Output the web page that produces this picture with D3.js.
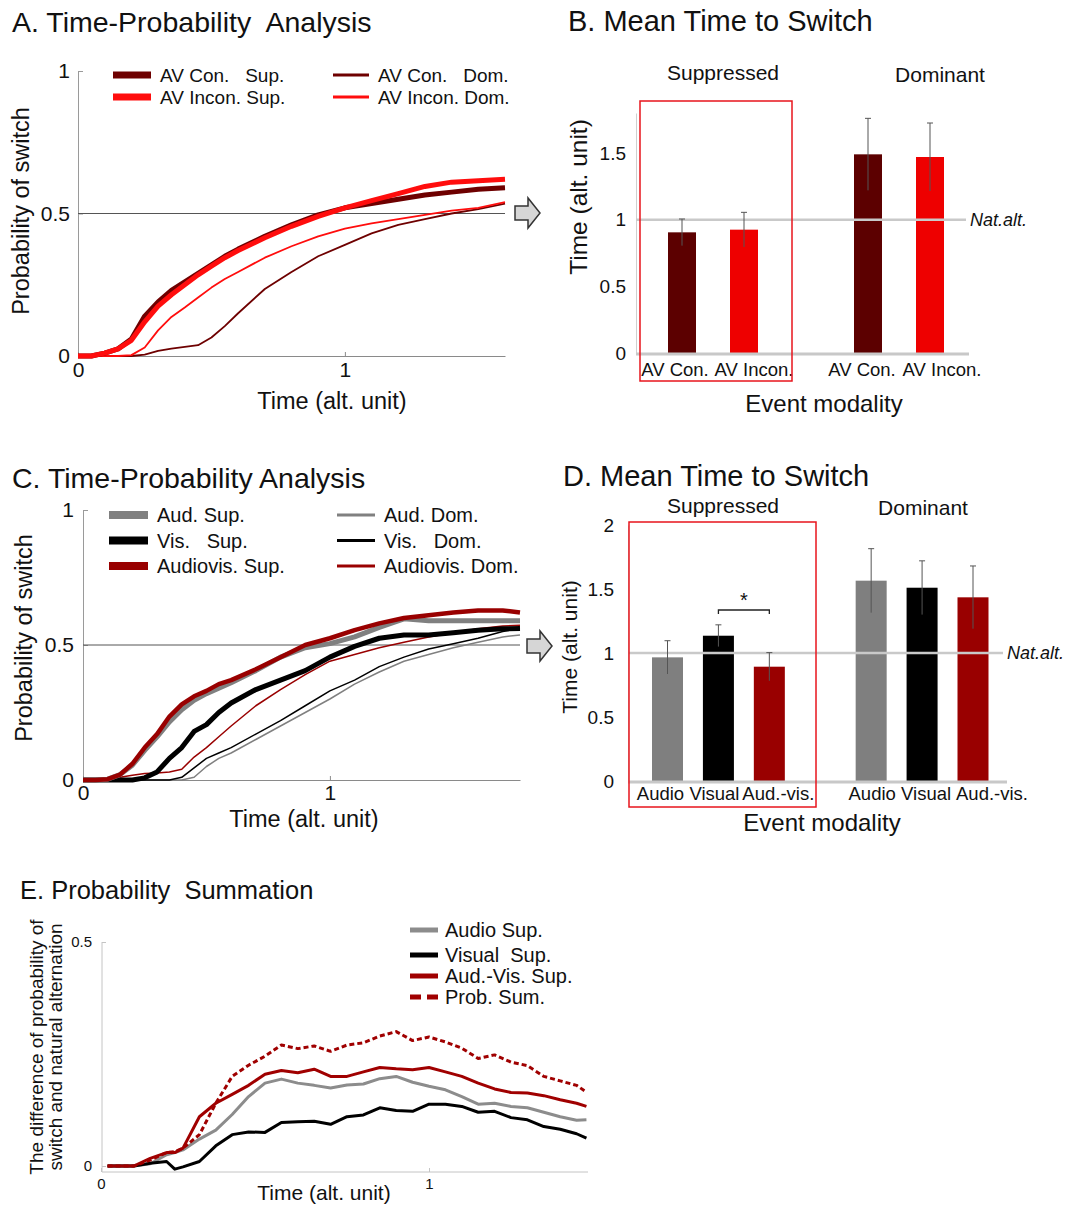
<!DOCTYPE html>
<html>
<head>
<meta charset="utf-8">
<script src="https://cdn.jsdelivr.net/npm/d3@7"></script>
<style>
body { margin: 0; background: #fff; }
text { font-family: "Liberation Sans", Arial, sans-serif; fill: #111; }
</style>
</head>
<body>
<script>
// ---------- panel A: time-probability, AV congruent / incongruent ----------
var timeA = [0,0.05,0.1,0.15,0.2,0.25,0.3,0.35,0.4,0.45,0.5,0.55,0.6,0.7,0.8,0.9,1.0,1.1,1.2,1.3,1.4,1.5,1.6];
var avConSup   = [0,0,0.01,0.025,0.06,0.14,0.19,0.23,0.26,0.29,0.32,0.35,0.375,0.42,0.46,0.495,0.52,0.535,0.55,0.565,0.575,0.585,0.59];
var avInconSup = [0,0,0.01,0.025,0.055,0.12,0.175,0.215,0.25,0.285,0.315,0.345,0.37,0.415,0.455,0.49,0.52,0.545,0.57,0.595,0.61,0.615,0.62];
var avConDom   = [0,0,0,0,0,0.005,0.018,0.026,0.032,0.038,0.065,0.105,0.15,0.235,0.295,0.35,0.39,0.43,0.46,0.48,0.5,0.515,0.535];
var avInconDom = [0,0,0,0,0.003,0.03,0.09,0.137,0.17,0.205,0.24,0.27,0.295,0.345,0.385,0.42,0.447,0.465,0.48,0.495,0.51,0.52,0.54];
var legendA = ['AV Con.   Sup.', 'AV Incon. Sup.', 'AV Con.   Dom.', 'AV Incon. Dom.'];

// ---------- panel C: time-probability, audio / visual / audiovisual ----------
var timeC = [0,0.05,0.1,0.15,0.2,0.25,0.3,0.35,0.4,0.45,0.5,0.55,0.6,0.7,0.8,0.9,1.0,1.1,1.2,1.3,1.4,1.5,1.6,1.7,1.77];
var audSupC = [0,0,0.003,0.02,0.055,0.11,0.16,0.215,0.26,0.295,0.32,0.34,0.36,0.405,0.455,0.49,0.505,0.53,0.565,0.597,0.59,0.59,0.59,0.59,0.59];
var visSupC = [0,0,0,0,0,0.008,0.03,0.08,0.12,0.18,0.205,0.25,0.285,0.335,0.37,0.405,0.455,0.495,0.525,0.537,0.537,0.545,0.555,0.56,0.561];
var avSupC  = [0,0,0.003,0.02,0.06,0.12,0.17,0.235,0.28,0.31,0.33,0.355,0.37,0.41,0.455,0.5,0.525,0.555,0.58,0.6,0.61,0.62,0.628,0.628,0.62];
var audDomC = [0,0,0,0,0,0,0,0,0,0.01,0.05,0.08,0.1,0.15,0.2,0.25,0.3,0.355,0.4,0.44,0.465,0.49,0.51,0.53,0.537];
var visDomC = [0,0,0,0,0,0,0,0,0.01,0.045,0.08,0.1,0.12,0.17,0.22,0.275,0.33,0.37,0.42,0.455,0.485,0.505,0.525,0.55,0.561];
var avDomC  = [0,0,0.003,0.01,0.018,0.024,0.026,0.03,0.04,0.085,0.12,0.16,0.2,0.275,0.335,0.39,0.44,0.465,0.49,0.51,0.53,0.545,0.56,0.57,0.573];
var legendC = ['Aud. Sup.', 'Vis.   Sup.', 'Audiovis. Sup.', 'Aud. Dom.', 'Vis.   Dom.', 'Audiovis. Dom.'];

// ---------- panel B: mean time to switch ----------
var catsB = ['AV Con.', 'AV Incon.'];
var supB = [0.905, 0.925], supErrB = [0.10, 0.13];
var domB = [1.49, 1.47],   domErrB = [0.27, 0.255];

// ---------- panel D: mean time to switch ----------
var catsD = ['Audio', 'Visual', 'Aud.-vis.'];
var supD = [0.966, 1.135, 0.893], supErrD = [0.13, 0.085, 0.11];
var domD = [1.565, 1.51, 1.435],  domErrD = [0.25, 0.21, 0.245];

// ---------- panel E: probability summation ----------
var timeE = [0.02,0.1,0.15,0.2,0.225,0.25,0.3,0.35,0.4,0.45,0.5,0.55,0.6,0.65,0.7,0.75,0.8,0.85,0.9,0.95,1.0,1.05,1.1,1.15,1.2,1.25,1.3,1.35,1.4,1.45,1.48];
var audSupE  = [0,0,0.005,0.025,0.03,0.036,0.06,0.08,0.115,0.155,0.185,0.194,0.185,0.18,0.174,0.181,0.183,0.195,0.2,0.187,0.178,0.17,0.155,0.138,0.14,0.133,0.13,0.12,0.11,0.102,0.103];
var visSupE  = [0,0,0.006,0.01,-0.007,-0.002,0.01,0.045,0.07,0.076,0.075,0.097,0.099,0.1,0.093,0.11,0.114,0.13,0.124,0.122,0.138,0.138,0.133,0.12,0.122,0.108,0.103,0.088,0.082,0.072,0.062];
var avSupE   = [0,0,0.017,0.03,0.03,0.04,0.11,0.14,0.16,0.18,0.205,0.213,0.208,0.216,0.2,0.2,0.21,0.22,0.217,0.215,0.22,0.21,0.2,0.185,0.172,0.164,0.163,0.157,0.148,0.14,0.133];
var probSumE = [0,0,0.013,0.03,0.032,0.04,0.07,0.14,0.2,0.225,0.245,0.27,0.262,0.268,0.256,0.27,0.275,0.29,0.3,0.28,0.288,0.277,0.263,0.24,0.248,0.232,0.224,0.2,0.19,0.18,0.165];
var legendE = ['Audio Sup.', 'Visual  Sup.', 'Aud.-Vis. Sup.', 'Prob. Sum.'];

var DARK = '#6e0000', BRIGHT = '#ff0d0d', AVRED = '#990000', GREY = '#808080';

var svg = d3.select('body').append('svg')
  .attr('width', 1073).attr('height', 1205)
  .style('display', 'block');
svg.append('rect').attr('width', 1073).attr('height', 1205).attr('fill', '#fff');

function title(x, y, s, size) {
  svg.append('text').attr('x', x).attr('y', y)
    .attr('font-size', size).style('white-space', 'pre').text(s);
}

function zip(t, v) {
  return t.map(function(d, i) { return [d, v[i]]; });
}

function styleAxis(g, size, color) {
  g.attr('font-family', '"Liberation Sans", Arial, sans-serif').attr('font-size', size);
  g.select('.domain').attr('stroke', color);
  g.selectAll('.tick line').attr('stroke', color);
  g.selectAll('.tick text').attr('fill', '#111');
}

function arrow(x0, yc) {
  var p = d3.path();
  p.moveTo(x0, yc - 7); p.lineTo(x0 + 13, yc - 7); p.lineTo(x0 + 13, yc - 15);
  p.lineTo(x0 + 25, yc); p.lineTo(x0 + 13, yc + 15); p.lineTo(x0 + 13, yc + 7);
  p.lineTo(x0, yc + 7); p.closePath();
  svg.append('path').attr('d', p.toString()).attr('fill', '#d6d6d6')
    .attr('stroke', '#333').attr('stroke-width', 1.5);
}

// ---------- time-probability panels ----------
function curvePanel(o) {
  var x = d3.scaleLinear().domain(o.xdom).range(o.xr);
  var y = d3.scaleLinear().domain([0, 1]).range(o.yr);
  var g = svg.append('g');

  var ya = g.append('g').attr('transform', 'translate(' + o.xr[0] + ',0)')
    .call(d3.axisLeft(y).tickValues([0, 0.5, 1]).tickFormat(d3.format('~g'))
      .tickSizeInner(-5).tickSizeOuter(0).tickPadding(o.tickPad));
  styleAxis(ya, o.tickSize, '#9a9a9a');

  var xa = g.append('g').attr('transform', 'translate(0,' + o.yr[0] + ')')
    .call(d3.axisBottom(x).tickValues([0, 1]).tickFormat(d3.format('~g'))
      .tickSizeInner(-4).tickSizeOuter(0).tickPadding(o.xPad));
  styleAxis(xa, o.tickSize, '#8a8a8a');

  g.append('line').attr('x1', x(0)).attr('x2', o.xr[1])
    .attr('y1', y(0.5)).attr('y2', y(0.5))
    .attr('stroke', '#555').attr('stroke-width', 1);

  var line = d3.line().x(function(d) { return x(d[0]); }).y(function(d) { return y(d[1]); });
  o.series.forEach(function(s) {
    g.append('path').attr('d', line(zip(o.time, s.v)))
      .attr('fill', 'none').attr('stroke', s.c).attr('stroke-width', s.w)
      .attr('stroke-linejoin', 'round');
  });

  // legend
  o.legend.forEach(function(lab, i) {
    var col = Math.floor(i / o.perCol), row = i % o.perCol;
    var s = o.legendSeries[i];
    var lx = o.legX[col], ly = o.legY + row * o.legStep;
    g.append('line').attr('x1', lx).attr('x2', lx + o.swW[col])
      .attr('y1', ly).attr('y2', ly)
      .attr('stroke', s.c).attr('stroke-width', o.swT[col]);
    g.append('text').attr('x', lx + o.swW[col] + 9).attr('y', ly + 7)
      .attr('font-size', o.legSize).style('white-space', 'pre').text(lab);
  });

  g.append('text').attr('transform', 'translate(' + o.ylab[0] + ',' + o.ylab[1] + ') rotate(-90)')
    .attr('text-anchor', 'middle').attr('dy', '0.35em').attr('font-size', 23.5)
    .text('Probability of switch');
  g.append('text').attr('x', o.xlab[0]).attr('y', o.xlab[1])
    .attr('text-anchor', 'middle').attr('font-size', 23.5).text('Time (alt. unit)');
}

title(12, 32, 'A. Time-Probability  Analysis', 28.5);
var serA = [
  { v: avConSup,   c: DARK,   w: 5 },
  { v: avInconSup, c: BRIGHT, w: 5 },
  { v: avConDom,   c: DARK,   w: 1.8 },
  { v: avInconDom, c: BRIGHT, w: 1.8 }
];
curvePanel({
  time: timeA, xdom: [0, 1.6], xr: [78, 505], yr: [356, 71],
  tickPad: 8, xPad: 6, tickSize: 21,
  series: [serA[2], serA[3], serA[0], serA[1]],
  legend: legendA, legendSeries: serA, perCol: 2, legSize: 19,
  legX: [113, 333], legY: 75, legStep: 22, swW: [38, 36], swT: [7, 3],
  ylab: [21, 211], xlab: [332, 409]
});
arrow(515, 213);

title(12, 488, 'C. Time-Probability Analysis', 28.5);
var serC = [
  { v: audSupC, c: GREY,   w: 5 },
  { v: visSupC, c: '#000', w: 5 },
  { v: avSupC,  c: AVRED,  w: 4.5 },
  { v: audDomC, c: GREY,   w: 1.5 },
  { v: visDomC, c: '#000', w: 1.5 },
  { v: avDomC,  c: AVRED,  w: 1.5 }
];
curvePanel({
  time: timeC, xdom: [0, 1.77], xr: [83, 520], yr: [780, 510],
  tickPad: 9, xPad: 5, tickSize: 21,
  series: [serC[3], serC[4], serC[5], serC[1], serC[0], serC[2]],
  legend: legendC, legendSeries: serC, perCol: 3, legSize: 20,
  legX: [109, 337], legY: 515, legStep: 25.5, swW: [39, 38], swT: [8, 3],
  ylab: [24, 638], xlab: [304, 827]
});
arrow(527, 646);

// ---------- bar panels ----------
function barPanel(o) {
  var g = svg.append('g');
  var y = d3.scaleLinear().domain([0, o.ymax]).range([o.y0, o.ytop]);
  var keys = o.cats.map(function(c) { return 's-' + c; })
    .concat(['gap'], o.cats.map(function(c) { return 'd-' + c; }));
  var x = d3.scalePoint().domain(keys).range(o.xrange);

  var bars = [];
  o.cats.forEach(function(c, i) {
    bars.push({ k: 's-' + c, lab: c, v: o.sup[i], e: o.supErr[i], c: o.colors[i], dx: o.labDx[i] });
  });
  o.cats.forEach(function(c, i) {
    bars.push({ k: 'd-' + c, lab: c, v: o.dom[i], e: o.domErr[i], c: o.colors[i], dx: o.labDx[i + o.cats.length] });
  });

  var ya = g.append('g').attr('transform', 'translate(' + o.axisX + ',0)')
    .call(d3.axisLeft(y).tickValues(o.ticks).tickFormat(d3.format('~g'))
      .tickSize(0).tickPadding(o.tickPad));
  styleAxis(ya, 19, '#cfcfcf');

  g.selectAll('rect.bar').data(bars).enter().append('rect')
    .attr('class', 'bar')
    .attr('x', function(d) { return x(d.k) - o.bw / 2; })
    .attr('width', o.bw)
    .attr('y', function(d) { return y(d.v); })
    .attr('height', function(d) { return y(0) - y(d.v); })
    .attr('fill', function(d) { return d.c; });

  // baseline and natural alternation line
  g.append('line').attr('x1', o.axisX).attr('x2', o.baseEnd)
    .attr('y1', y(0) + 1).attr('y2', y(0) + 1)
    .attr('stroke', '#c8c8c8').attr('stroke-width', 3);
  g.append('line').attr('x1', o.axisX).attr('x2', o.natEnd)
    .attr('y1', y(1)).attr('y2', y(1))
    .attr('stroke', '#c9c9c9').attr('stroke-width', 2.5);
  g.append('text').attr('x', o.natEnd + 4).attr('y', y(1) + 6)
    .attr('font-size', 18).attr('font-style', 'italic').text('Nat.alt.');

  var eb = g.selectAll('g.err').data(bars).enter().append('g')
    .attr('stroke', '#555').attr('stroke-width', 1);
  eb.append('line')
    .attr('x1', function(d) { return x(d.k); }).attr('x2', function(d) { return x(d.k); })
    .attr('y1', function(d) { return y(d.v + d.e); }).attr('y2', function(d) { return y(d.v - d.e); });
  eb.append('line')
    .attr('x1', function(d) { return x(d.k) - 3; }).attr('x2', function(d) { return x(d.k) + 3; })
    .attr('y1', function(d) { return y(d.v + d.e); }).attr('y2', function(d) { return y(d.v + d.e); });

  g.selectAll('text.cat').data(bars).enter().append('text')
    .attr('x', function(d) { return x(d.k) + d.dx; })
    .attr('y', o.catY).attr('text-anchor', 'middle').attr('font-size', 18.5)
    .text(function(d) { return d.lab; });

  g.append('rect').attr('x', o.box[0]).attr('y', o.box[1])
    .attr('width', o.box[2] - o.box[0]).attr('height', o.box[3] - o.box[1])
    .attr('fill', 'none').attr('stroke', '#e8141c').attr('stroke-width', 1.5);

  g.append('text').attr('x', o.supLab[0]).attr('y', o.supLab[1])
    .attr('text-anchor', 'middle').attr('font-size', 21).text('Suppressed');
  g.append('text').attr('x', o.domLab[0]).attr('y', o.domLab[1])
    .attr('text-anchor', 'middle').attr('font-size', 21).text('Dominant');
  g.append('text').attr('x', o.evLab[0]).attr('y', o.evLab[1])
    .attr('text-anchor', 'middle').attr('font-size', 24).text('Event modality');
  g.append('text').attr('transform', 'translate(' + o.yLab[0] + ',' + o.yLab[1] + ') rotate(-90)')
    .attr('text-anchor', 'middle').attr('dy', '0.35em').attr('font-size', o.yLabSize)
    .text('Time (alt. unit)');

  if (o.sig) {
    var a = x('s-' + o.sig[0]), b = x('s-' + o.sig[1]), sy = o.sig[2];
    g.append('path')
      .attr('d', 'M' + a + ',' + (sy + 4) + 'V' + sy + 'H' + b + 'V' + (sy + 4))
      .attr('fill', 'none').attr('stroke', '#222').attr('stroke-width', 1.3);
    g.append('text').attr('x', (a + b) / 2).attr('y', sy - 3)
      .attr('text-anchor', 'middle').attr('font-size', 20).text('*');
  }
}

title(568, 31, 'B. Mean Time to Switch', 29);
barPanel({
  cats: catsB, sup: supB, supErr: supErrB, dom: domB, domErr: domErrB,
  colors: ['#5c0000', '#ee0000'], labDx: [-7, 10, -6, 12],
  ymax: 1.8, y0: 353, ytop: 113, ticks: [0, 0.5, 1, 1.5],
  xrange: [682, 930], bw: 28, axisX: 636, tickPad: 10,
  baseEnd: 969, natEnd: 966, catY: 376,
  box: [640, 101, 792, 381], supLab: [723, 80], domLab: [940, 82],
  evLab: [824, 412], yLab: [578, 197], yLabSize: 24.5
});

title(563, 486, 'D. Mean Time to Switch', 29);
barPanel({
  cats: catsD, sup: supD, supErr: supErrD, dom: domD, domErr: domErrD,
  colors: ['#7f7f7f', '#000000', '#990000'], labDx: [-7, -4, 9, 1, 4, 19],
  ymax: 2, y0: 781, ytop: 525, ticks: [0, 0.5, 1, 1.5, 2],
  xrange: [667.5, 973], bw: 31, axisX: 628, tickPad: 14,
  baseEnd: 1007, natEnd: 1003, catY: 800,
  box: [629, 522, 816, 807], supLab: [723, 513], domLab: [923, 515],
  evLab: [822, 831], yLab: [570, 647], yLabSize: 21,
  sig: ['Visual', 'Aud.-vis.', 610]
});

// ---------- panel E ----------
title(20, 899, 'E. Probability  Summation', 25.5);
(function() {
  var x = d3.scaleLinear().domain([0, 1]).range([101, 429]);
  var y = d3.scaleLinear().domain([0, 0.5]).range([1166, 942]);
  var g = svg.append('g');

  var ya = g.append('g').attr('transform', 'translate(102,0)')
    .call(d3.axisLeft(y).tickValues([0, 0.5]).tickFormat(d3.format('~g'))
      .tickSizeInner(-4).tickSizeOuter(0).tickPadding(10));
  ya.select('.domain').attr('d', 'M0,' + y(0.5) + 'V' + (y(0) + 6));
  styleAxis(ya, 15, '#c4c4c4');

  var xa = g.append('g').attr('transform', 'translate(0,' + (y(0) + 6) + ')')
    .call(d3.axisBottom(x).tickValues([0, 1]).tickFormat(d3.format('~g'))
      .tickSizeInner(-4).tickSizeOuter(0).tickPadding(6));
  xa.select('.domain').attr('d', 'M102,0H588');
  styleAxis(xa, 15, '#c4c4c4');

  var line = d3.line().x(function(d) { return x(d[0]); }).y(function(d) { return y(d[1]); });
  var serE = [
    { v: audSupE,  c: '#8c8c8c', w: 3 },
    { v: visSupE,  c: '#000',    w: 3 },
    { v: avSupE,   c: '#a00000', w: 3 },
    { v: probSumE, c: '#a00000', w: 3, dash: '5,3', swDash: '11,6' }
  ];
  serE.forEach(function(s) {
    g.append('path').attr('d', line(zip(timeE, s.v)))
      .attr('fill', 'none').attr('stroke', s.c).attr('stroke-width', s.w)
      .attr('stroke-dasharray', s.dash || null).attr('stroke-linejoin', 'round');
  });

  var legY = [930, 955, 976, 997];
  legendE.forEach(function(lab, i) {
    var s = serE[i];
    g.append('line').attr('x1', 410).attr('x2', 438).attr('y1', legY[i]).attr('y2', legY[i])
      .attr('stroke', s.c).attr('stroke-width', 5)
      .attr('stroke-dasharray', s.swDash || null);
    g.append('text').attr('x', 445).attr('y', legY[i] + 7)
      .attr('font-size', 20).style('white-space', 'pre').text(lab);
  });

  g.append('text').attr('transform', 'translate(36,1047) rotate(-90)')
    .attr('text-anchor', 'middle').attr('dy', '0.35em').attr('font-size', 19)
    .text('The difference of probability of');
  g.append('text').attr('transform', 'translate(55,1047) rotate(-90)')
    .attr('text-anchor', 'middle').attr('dy', '0.35em').attr('font-size', 19)
    .text('switch and natural alternation');
  g.append('text').attr('x', 324).attr('y', 1200)
    .attr('text-anchor', 'middle').attr('font-size', 21).text('Time (alt. unit)');
})();
</script>
</body>
</html>
